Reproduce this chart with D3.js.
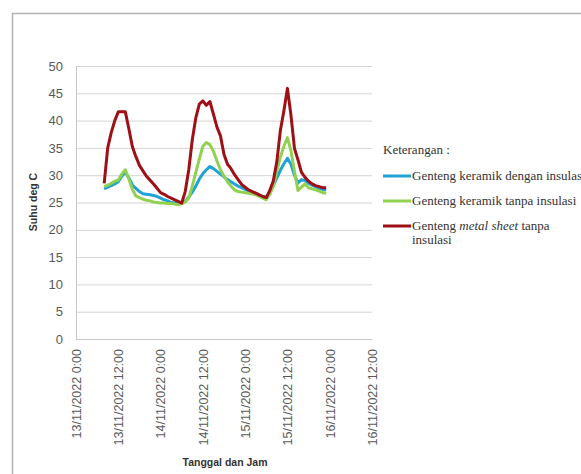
<!DOCTYPE html>
<html>
<head>
<meta charset="utf-8">
<script src="https://cdn.jsdelivr.net/npm/d3@7"></script>
<style>
  body { margin: 0; background: #fff; }
  svg { display: block; }
</style>
</head>
<body>
<svg></svg>
<script>
// hourly readings, first one at 13/11/2022 08:00
const startTime = new Date(2022, 10, 13, 8, 0);
const stepHours = 1;

const keramikInsulasi = [
  27.5, 27.8, 28.1, 28.4, 28.8, 29.8, 30.6, 29.5, 28.2, 27.6, 27.0, 26.6, 26.5, 26.4, 26.3, 26.1,
  25.8, 25.5, 25.3, 25.0, 24.9, 24.8, 24.8, 25.2, 26.0, 26.9, 28.0, 29.3, 30.3, 31.0, 31.6, 31.2,
  30.7, 30.2, 29.7, 29.2, 28.8, 28.4, 28.0, 27.7, 27.4, 27.1, 26.9, 26.7, 26.4, 26.1, 26.0, 26.8,
  28.1, 29.5, 30.9, 32.1, 33.1, 32.0, 30.0, 28.6, 29.2, 29.0, 28.5, 28.2, 27.9, 27.6, 27.4, 27.3
];
const keramikTanpa = [
  27.9, 28.2, 28.5, 28.9, 29.1, 30.2, 31.0, 29.3, 27.4, 26.2, 25.9, 25.6, 25.4, 25.3, 25.1, 25.0,
  24.9, 24.9, 24.8, 24.8, 24.7, 24.6, 24.8, 25.1, 25.8, 28.0, 30.5, 33.0, 35.3, 36.0, 35.6, 34.4,
  32.6, 31.0, 29.8, 28.8, 28.0, 27.3, 27.0, 26.9, 26.8, 26.7, 26.6, 26.4, 26.1, 25.8, 25.5, 26.5,
  28.0, 30.8, 33.3, 35.3, 36.9, 34.5, 30.7, 27.2, 27.8, 28.4, 27.7, 27.5, 27.3, 27.1, 26.8, 26.7
];
const metalTanpa = [
  28.5, 35.0, 37.8, 40.0, 41.6, 41.6, 41.6, 38.5, 35.2, 33.4, 31.8, 30.8, 29.8, 29.1, 28.4, 27.6,
  26.8, 26.5, 26.1, 25.8, 25.5, 25.2, 24.9, 27.0, 31.0, 36.5, 40.5, 43.0, 43.6, 42.8, 43.5, 41.2,
  38.8, 37.2, 33.8, 32.0, 31.2, 30.1, 29.2, 28.3, 27.8, 27.3, 27.0, 26.7, 26.4, 26.1, 25.9, 27.2,
  29.0, 32.5, 38.2, 41.8, 45.9, 41.0, 34.9, 32.8, 30.5, 29.6, 28.9, 28.4, 28.1, 27.9, 27.7, 27.7
];

const yTicks = [0, 5, 10, 15, 20, 25, 30, 35, 40, 45, 50];
const xTickLabels = ["13/11/2022 0:00", "13/11/2022 12:00", "14/11/2022 0:00", "14/11/2022 12:00",
  "15/11/2022 0:00", "15/11/2022 12:00", "16/11/2022 0:00", "16/11/2022 12:00"];

const seriesNames = ["Genteng keramik dengan insulasi", "Genteng keramik tanpa insulasi", "Genteng metal sheet tanpa insulasi"];
const seriesColors = ["#1fa3d6", "#92d050", "#9e1016"];

const width = 581;
const height = 474;
const margin = { left: 76, right: 209, top: 66, bottom: 135 };

const svg = d3.select("svg")
  .attr("width", width)
  .attr("height", height);

// outer chart frame (only left and top are visible in the crop)
svg.append("rect")
  .attr("x", 12.5)
  .attr("y", 13.5)
  .attr("width", width + 20)
  .attr("height", height + 20)
  .attr("fill", "none")
  .attr("stroke", "#b4b4b4")
  .attr("stroke-width", 1.5);

const xTickDates = xTickLabels.map((s, i) => new Date(2022, 10, 13, i * 12, 0));

const x = d3.scaleTime()
  .domain([xTickDates[0], xTickDates[xTickDates.length - 1]])
  .range([margin.left, width - margin.right]);

const y = d3.scaleLinear()
  .domain([0, 50])
  .range([height - margin.bottom, margin.top]);

// gridlines
svg.append("g")
  .attr("transform", `translate(${margin.left},0)`)
  .call(d3.axisLeft(y).tickValues(yTicks).tickSize(-(width - margin.right - margin.left)).tickFormat(""))
  .call(g => g.select(".domain").remove())
  .call(g => g.selectAll("line").attr("stroke", "#d4d4d4").attr("stroke-width", 1));

// y axis
svg.append("g")
  .attr("transform", `translate(${margin.left},0)`)
  .call(d3.axisLeft(y).tickValues(yTicks).tickSize(0).tickPadding(13))
  .call(g => g.select(".domain").attr("stroke", "#c8c8c8"))
  .call(g => g.selectAll("text")
    .attr("fill", "#595959")
    .style("font-family", "'Liberation Sans', Arial, sans-serif")
    .style("font-size", "13px"));

// x axis
svg.append("g")
  .attr("transform", `translate(0,${height - margin.bottom})`)
  .call(d3.axisBottom(x).tickValues(xTickDates).tickSize(0).tickFormat((d, i) => xTickLabels[i]))
  .call(g => g.select(".domain").attr("stroke", "#c8c8c8"))
  .call(g => g.selectAll("text")
    .attr("fill", "#595959")
    .attr("transform", "rotate(-90)")
    .attr("text-anchor", "end")
    .attr("x", -10)
    .attr("y", 0)
    .attr("dy", "0.35em")
    .style("font-family", "'Liberation Sans', Arial, sans-serif")
    .style("font-size", "12.5px"));

// axis titles
svg.append("text")
  .attr("transform", "translate(37,202) rotate(-90)")
  .attr("text-anchor", "middle")
  .attr("fill", "#333")
  .style("font-family", "'Liberation Sans', Arial, sans-serif")
  .style("font-size", "10.5px")
  .style("font-weight", "bold")
  .text("Suhu deg C");

svg.append("text")
  .attr("x", 225)
  .attr("y", 466)
  .attr("text-anchor", "middle")
  .attr("fill", "#333")
  .style("font-family", "'Liberation Sans', Arial, sans-serif")
  .style("font-size", "10.5px")
  .style("font-weight", "bold")
  .text("Tanggal dan Jam");

// lines
const allSeries = [keramikInsulasi, keramikTanpa, metalTanpa];
const line = d3.line()
  .x((d, i) => x(d3.timeHour.offset(startTime, i * stepHours)))
  .y(d => y(d));

allSeries.forEach((values, k) => {
  svg.append("path")
    .datum(values)
    .attr("fill", "none")
    .attr("stroke", seriesColors[k])
    .attr("stroke-width", 3)
    .attr("stroke-linejoin", "round")
    .attr("d", line);
});

// legend
const legend = svg.append("g")
  .style("font-family", "'Liberation Serif', 'Times New Roman', serif")
  .style("font-size", "13px")
  .attr("fill", "#333");

legend.append("text")
  .attr("x", 383)
  .attr("y", 154)
  .text("Keterangan :");

const legendY = [176, 201, 226];
seriesNames.forEach((name, k) => {
  legend.append("line")
    .attr("x1", 383)
    .attr("x2", 411)
    .attr("y1", legendY[k])
    .attr("y2", legendY[k])
    .attr("stroke", seriesColors[k])
    .attr("stroke-width", 3);
});

legend.append("text").attr("x", 412).attr("y", legendY[0] + 4).text(seriesNames[0]);
legend.append("text").attr("x", 412).attr("y", legendY[1] + 4).text(seriesNames[1]);

const t3 = legend.append("text").attr("x", 412).attr("y", legendY[2] + 4);
t3.append("tspan").text("Genteng ");
t3.append("tspan").style("font-style", "italic").text("metal sheet");
t3.append("tspan").text(" tanpa");
legend.append("text").attr("x", 412).attr("y", legendY[2] + 18).text("insulasi");
</script>
</body>
</html>
